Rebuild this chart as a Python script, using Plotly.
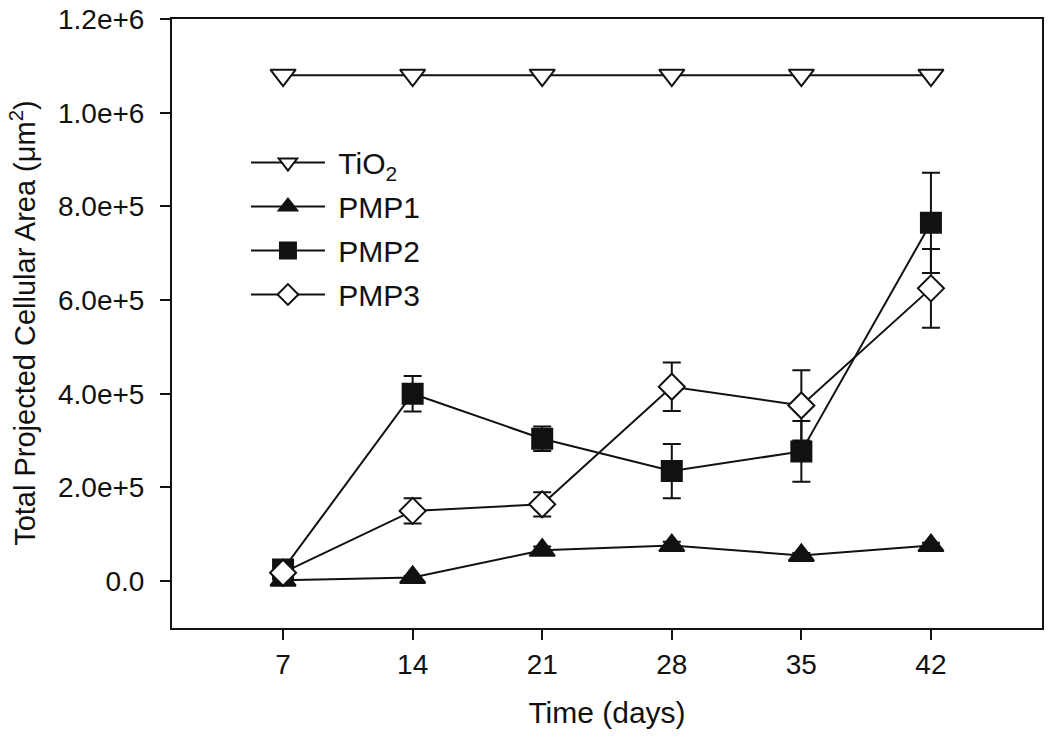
import plotly.graph_objects as go

days = [7, 14, 21, 28, 35, 42]
tio2 = [1.08e6, 1.08e6, 1.08e6, 1.08e6, 1.08e6, 1.08e6]
pmp1 = [2e3, 8e3, 6.6e4, 7.6e4, 5.5e4, 7.6e4]
pmp1_err = [2e3, 3e3, 8e3, 8e3, 5e3, 6e3]
pmp2 = [2.5e4, 4.0e5, 3.04e5, 2.35e5, 2.77e5, 7.65e5]
pmp2_err = [5e3, 3.8e4, 2.6e4, 5.8e4, 6.5e4, 1.07e5]
pmp3 = [1.8e4, 1.5e5, 1.64e5, 4.15e5, 3.75e5, 6.25e5]
pmp3_err = [4e3, 2.7e4, 2.6e4, 5.2e4, 7.5e4, 8.4e4]

ytick_vals = [0, 2e5, 4e5, 6e5, 8e5, 1e6, 1.2e6]
ytick_text = ["0.0", "2.0e+5", "4.0e+5", "6.0e+5", "8.0e+5", "1.0e+6", "1.2e+6"]

INK = "#111111"
FONT = "Liberation Sans, Arial, sans-serif"
NB = "\u00a0"

fig = go.Figure()

def add(name, y, err, symbol, fill, size, group):
    fig.add_trace(go.Scatter(
        x=days, y=y, name=NB + name, mode="lines+markers", legendgroup=group,
        line=dict(color=INK, width=2),
        marker=dict(symbol=symbol, size=size, color=fill,
                    line=dict(color=INK, width=2)),
        error_y=(dict(type="data", array=err, visible=True, color=INK,
                      thickness=2, width=9) if err is not None else None),
    ))

add("TiO<sub>2</sub>", tio2, None, "triangle-down", "white", 22, "a")
add("PMP1", pmp1, pmp1_err, "triangle-up", INK, 22, "b")
add("PMP2", pmp2, pmp2_err, "square", INK, 20, "c")
add("PMP3", pmp3, pmp3_err, "diamond", "white", 20, "d")

fig.update_layout(
    width=1050, height=742,
    margin=dict(l=172, r=8, t=19, b=114),
    paper_bgcolor="white", plot_bgcolor="white",
    font=dict(family=FONT, size=28, color=INK),
    showlegend=True,
    legend=dict(x=0.085, y=0.807, xanchor="left", yanchor="top",
                bgcolor="rgba(0,0,0,0)", font=dict(size=30),
                itemwidth=74, tracegroupgap=2,
                traceorder="grouped"),
    xaxis=dict(range=[1, 48], tickvals=days, ticktext=[str(d) for d in days],
               ticks="outside", ticklen=10, tickwidth=2, tickcolor=INK,
               ticklabeloverflow="allow",
               showline=True, linecolor=INK, linewidth=2, mirror=True,
               showgrid=False, zeroline=False, automargin=False,
               title=dict(text="Time (days)", standoff=23, font=dict(size=30)),
               tickfont=dict(size=28)),
    yaxis=dict(range=[-1e5, 1.2e6], tickvals=ytick_vals, ticktext=ytick_text,
               ticks="outside", ticklen=10, tickwidth=2, tickcolor=INK,
               ticklabelstandoff=10, ticklabeloverflow="allow",
               showline=True, linecolor=INK, linewidth=2, mirror=True,
               showgrid=False, zeroline=False, automargin=False,
               tickfont=dict(size=28)),
    annotations=[dict(
        text="Total Projected Cellular Area (μm<sup>2</sup>)",
        xref="paper", yref="paper", x=-0.172, y=0.5,
        xanchor="center", yanchor="middle", textangle=-90,
        showarrow=False, font=dict(size=29, color=INK))],
)

fig.write_html("out.html",
               config={"displayModeBar": False},
               post_script="document.body.style.margin='0';")
